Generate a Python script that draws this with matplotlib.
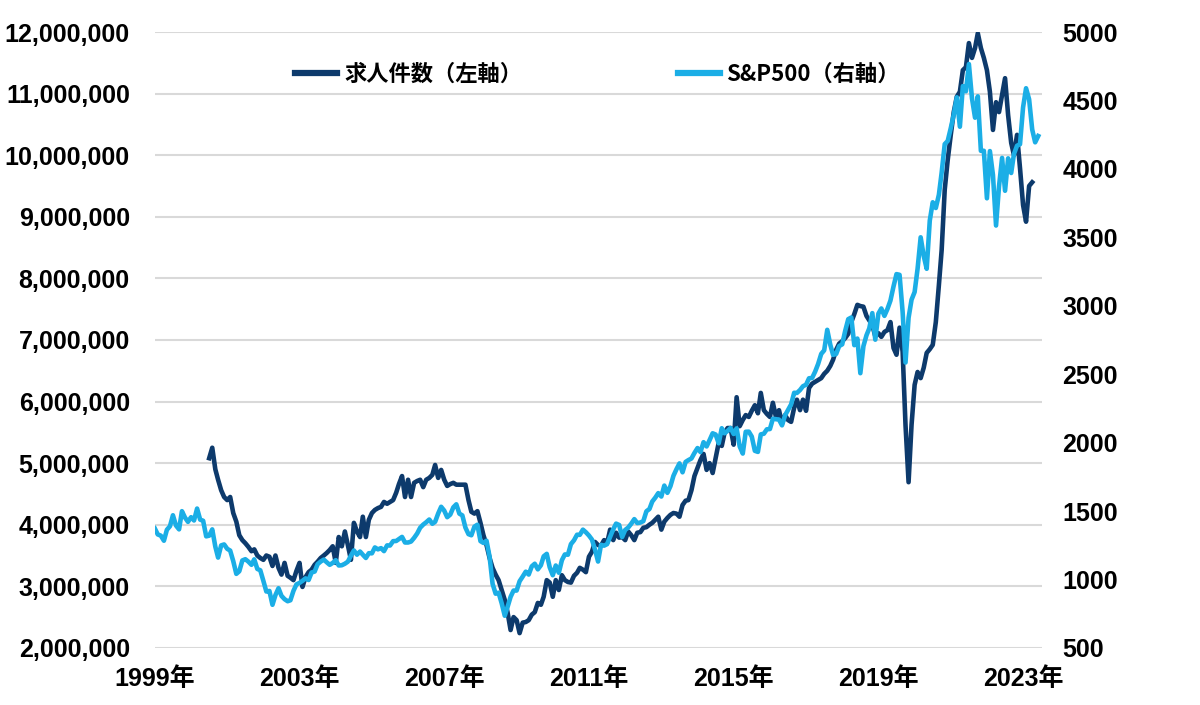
import pandas as pd
import matplotlib.pyplot as plt
from matplotlib.lines import Line2D
from matplotlib.ticker import FuncFormatter, MultipleLocator

plt.rcParams["font.family"] = ["Liberation Sans", "Noto Sans CJK JP"]

# ── Data (monthly) ─────────────────────────────────────────────
openings_start = "2000-12-01"   # job openings, thousands
openings = [
    5080, 5250, 4900, 4730, 4560, 4450, 4400, 4450, 4190, 4050, 3830, 3750,
    3700, 3640, 3570, 3600, 3500, 3460, 3430, 3500, 3480, 3330, 3500, 3300,
    3190, 3380, 3170, 3140, 3100, 3250, 3380, 2990, 3150, 3230, 3270, 3350,
    3400, 3460, 3500, 3540, 3590, 3650, 3380, 3800, 3650, 3890, 3670, 3430,
    4030, 3890, 3800, 4130, 3800, 4080, 4190, 4240, 4270, 4290, 4370, 4340,
    4370, 4400, 4520, 4660, 4790, 4450, 4730, 4450, 4680, 4710, 4730, 4610,
    4730, 4760, 4810, 4970, 4760, 4890, 4730, 4630, 4660, 4680, 4650, 4650,
    4650, 4650, 4400, 4210, 4180, 4220, 4030, 3830, 3670, 3460, 3300, 3190,
    3100, 2940, 2780, 2580, 2290, 2500, 2450, 2240, 2410, 2420, 2450, 2540,
    2580, 2730, 2700, 2830, 3100, 3060, 2830, 3100, 2940, 3180, 3100, 3070,
    3060, 3170, 3220, 3300, 3270, 3230, 3480, 3560, 3720, 3670, 3660, 3750,
    3700, 3920, 3750, 3870, 3790, 3800, 3750, 3890, 3830, 3750, 3870, 3880,
    3950, 3960, 4000, 4030, 4080, 4130, 3920, 4050, 4110, 4160, 4190, 4180,
    4130, 4320, 4390, 4400, 4560, 4790, 4920, 5050, 5150, 4890, 5000, 4840,
    5080, 5330, 5280, 5490, 5570, 5570, 5300, 6070, 5600, 5700, 5780, 5750,
    5850, 5940, 5810, 6140, 5860, 5800, 5750, 5980, 5750, 5860, 5640, 5780,
    5700, 5670, 5900, 6030, 5860, 6030, 5850, 6220, 6290, 6320, 6350, 6380,
    6450, 6500, 6580, 6680, 6840, 6940, 6980, 7030, 7100, 7290, 7420, 7570,
    7550, 7540, 7390, 7320, 7240, 7060, 7110, 7050, 7130, 7160, 7290, 6870,
    6760, 7200, 6810, 5620, 4690, 5620, 6270, 6480, 6380, 6550, 6790, 6850,
    6920, 7290, 7890, 8460, 9440, 9920, 10330, 10700, 10950, 11030, 11380, 11430,
    11820, 11580, 11740, 11980, 11740, 11580, 11380, 11030, 10410, 10860, 10700, 10980,
    11250, 10650, 10200, 10000, 10330, 9790, 9190, 8920, 9500, 9560,
]

sp500_start = "1999-06-01"
sp500 = [
    1373, 1329, 1320, 1283, 1363, 1389, 1469,
    1394, 1366, 1499, 1452, 1421, 1455, 1431, 1518, 1437, 1429, 1315, 1320,
    1366, 1240, 1160, 1249, 1256, 1224, 1211, 1134, 1041, 1060, 1139, 1148,
    1130, 1107, 1147, 1077, 1067, 990, 912, 916, 815, 886, 936, 880,
    856, 841, 848, 917, 964, 975, 990, 1008, 996, 1051, 1058, 1112,
    1131, 1145, 1126, 1107, 1121, 1141, 1102, 1104, 1115, 1130, 1174, 1212,
    1181, 1204, 1181, 1157, 1192, 1191, 1234, 1220, 1229, 1207, 1249, 1248,
    1280, 1281, 1295, 1311, 1270, 1270, 1277, 1304, 1336, 1378, 1401, 1418,
    1438, 1407, 1421, 1482, 1531, 1503, 1455, 1474, 1527, 1549, 1481, 1468,
    1379, 1331, 1323, 1386, 1400, 1280, 1267, 1283, 1166, 969, 896, 903,
    826, 735, 798, 873, 919, 919, 987, 1021, 1057, 1036, 1096, 1115,
    1074, 1104, 1169, 1187, 1089, 1031, 1102, 1049, 1141, 1183, 1181, 1258,
    1286, 1327, 1326, 1364, 1345, 1321, 1292, 1219, 1131, 1253, 1247, 1258,
    1312, 1366, 1408, 1398, 1310, 1362, 1379, 1407, 1441, 1412, 1416, 1426,
    1498, 1515, 1569, 1598, 1631, 1606, 1686, 1633, 1682, 1757, 1806, 1848,
    1783, 1859, 1872, 1884, 1924, 1960, 1931, 2003, 1972, 2018, 2068, 2059,
    1995, 2105, 2068, 2086, 2107, 2063, 2104, 1972, 1920, 2079, 2080, 2044,
    1940, 1932, 2060, 2065, 2097, 2099, 2174, 2171, 2168, 2126, 2199, 2239,
    2279, 2364, 2363, 2384, 2412, 2423, 2470, 2472, 2519, 2575, 2648, 2674,
    2824, 2714, 2641, 2648, 2705, 2718, 2816, 2902, 2914, 2712, 2760, 2507,
    2704, 2784, 2834, 2946, 2752, 2942, 2980, 2926, 2977, 3038, 3141, 3231,
    3226, 2954, 2585, 2912, 3044, 3100, 3271, 3500, 3363, 3270, 3622, 3756,
    3714, 3811, 3973, 4181, 4204, 4298, 4395, 4523, 4308, 4605, 4567, 4766,
    4516, 4374, 4530, 4132, 4132, 3785, 4130, 3955, 3586, 3872, 4080, 3840,
    4077, 3970, 4109, 4169, 4180, 4450, 4589, 4508, 4288, 4194, 4240,
]

tick_years = [1999, 2003, 2007, 2011, 2015, 2019, 2023]
labels = ["求人件数（左軸）", "S&P500（右軸）"]

DARK = "#0D3A6C"
LIGHT = "#1BAEE6"
GRID = "#D9D9D9"


def main():
    open_dates = pd.date_range(openings_start, periods=len(openings), freq="MS")
    sp_dates = pd.date_range(sp500_start, periods=len(sp500), freq="MS")
    open_vals = [v * 1000 for v in openings]

    fig = plt.figure(figsize=(12, 7.05), dpi=100)
    fig.patch.set_facecolor("white")
    ax = fig.add_axes([0.129, 0.081, 0.739, 0.8736])

    # ── Left axis: job openings ──────────────────────────────
    ax.plot(open_dates, open_vals, color=DARK, lw=3.3, solid_joinstyle="round")
    ax.set_ylim(2_000_000, 12_000_000)
    ax.yaxis.set_major_locator(MultipleLocator(1_000_000))
    ax.yaxis.set_major_formatter(FuncFormatter(lambda v, _: f"{v:,.0f}"))
    ax.grid(axis="y", color=GRID, lw=1.5)
    ax.set_axisbelow(True)

    ax.set_xlim(pd.Timestamp("1999-06-01"), pd.Timestamp("2023-12-05"))
    ax.set_xticks([pd.Timestamp(f"{y}-06-01") for y in tick_years])
    ax.set_xticklabels([f"{y}年" for y in tick_years])

    # ── Right axis: S&P 500 ──────────────────────────────────
    ax2 = ax.twinx()
    ax2.plot(sp_dates, sp500, color=LIGHT, lw=3.3, solid_joinstyle="round")
    ax2.set_ylim(500, 5000)
    ax2.set_yticks(range(500, 5001, 500))

    for a in (ax, ax2):
        for s in a.spines.values():
            s.set_visible(False)
        a.tick_params(length=0, labelsize=18)
        for t in a.get_xticklabels() + a.get_yticklabels():
            t.set_fontweight("bold")
    ax.tick_params(axis="y", pad=18)
    ax.tick_params(axis="x", pad=14)
    ax2.tick_params(axis="y", pad=15)

    handles = [Line2D([], [], color=DARK, lw=4.5), Line2D([], [], color=LIGHT, lw=4.5)]
    fig.legend(handles, labels, ncol=2, loc="center", bbox_to_anchor=(0.498, 0.894),
               frameon=False, handlelength=1.9, handletextpad=0.3, columnspacing=7,
               prop={"family": ["Noto Sans CJK JP"], "size": 16, "weight": "bold"})

    fig.savefig("out.png", dpi=100, facecolor="white")


if __name__ == "__main__":
    main()
